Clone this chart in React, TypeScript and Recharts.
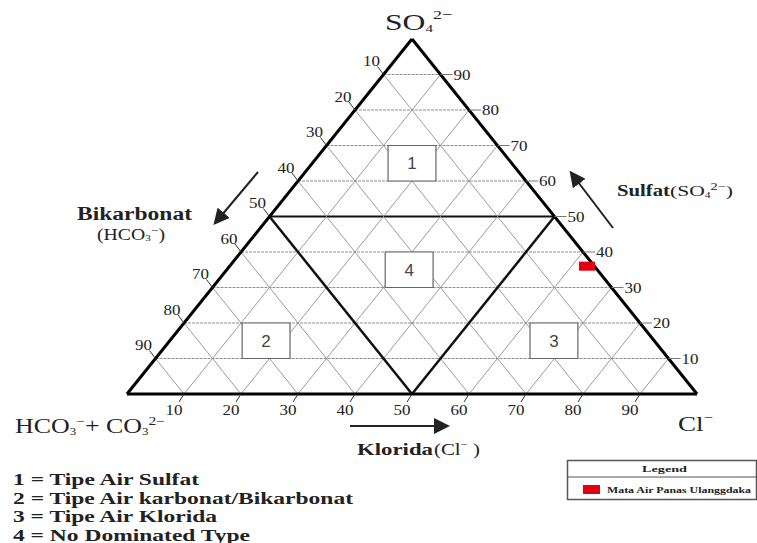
import {
  ScatterChart,
  Scatter,
  XAxis,
  YAxis,
  ReferenceLine,
  ReferenceArea,
  ReferenceDot,
} from "recharts";

// grid levels (percent) for the three components
const gridLevels = [10, 20, 30, 40, 50, 60, 70, 80, 90];
const sulfatTicks = [10, 20, 30, 40, 50, 60, 70, 80, 90];
const bikarbonatTicks = [10, 20, 30, 40, 50, 60, 70, 80, 90];
const kloridaTicks = [10, 20, 30, 40, 50, 60, 70, 80, 90];

// water type zones (labels + box extents in percent)
const zoneIds = ["1", "2", "3", "4"];
const zoneCl = [45.8, 20.2, 70.7, 45.3]; // left edge of box (sheared x)
const zoneSo4Low = [60, 10, 10, 30];
const zoneSo4High = [70, 20, 20, 40];
const zoneNames = [
  "Tipe Air Sulfat",
  "Tipe Air karbonat/Bikarbonat",
  "Tipe Air Klorida",
  "No Dominated Type",
];

// sample (percent HCO3, Cl, SO4)
const sampleNames = ["Mata Air Panas Ulanggdaka"];
const sampleHco3 = [1.3];
const sampleCl = [62.7];
const sampleSo4 = [36];

const toXY = (cl: number, so4: number) => ({ x: cl + so4 / 2, y: so4 });

const sampleData = sampleNames.map((name, i) => ({
  name,
  hco3: sampleHco3[i],
  ...toXY(sampleCl[i], sampleSo4[i]),
}));

const serif = "'Liberation Serif', 'DejaVu Serif', serif";
const GRID = "#8f8f8f";
const INK = "#222";

const SampleMark = (p: any) => (
  <rect x={p.cx - 8} y={p.cy - 4.5} width={16} height={9} fill="#e3000f" />
);

const TickText = ({ x, y, v, anchor }: any) => (
  <text
    x={x}
    y={y}
    textAnchor={anchor}
    fontSize={14}
    fontFamily={serif}
    fill={INK}
    textLength={17}
    lengthAdjust="spacingAndGlyphs"
  >
    {v}
  </text>
);

export default function App() {
  const zoneLegendLengths = [186, 340, 204, 237];
  return (
    <div
      style={{
        position: "absolute",
        left: 0,
        top: 0,
        width: 757,
        height: 543,
        background: "#fff",
        overflow: "hidden",
      }}
    >
      <ScatterChart
        width={757}
        height={543}
        margin={{ top: 39, right: 60, bottom: 149, left: 127 }}
      >
        <XAxis type="number" dataKey="x" domain={[0, 100]} hide />
        <YAxis type="number" dataKey="y" domain={[0, 100]} hide />

        {/* constant SO4 (horizontal) */}
        {gridLevels.map((s) => (
          <ReferenceLine
            key={"s" + s}
            segment={[
              { x: s / 2, y: s },
              { x: 100 - s / 2, y: s },
            ]}
            stroke={s === 50 ? "#111" : GRID}
            strokeWidth={s === 50 ? 2.2 : 1}
            strokeDasharray={s === 50 ? undefined : "3 1"}
          />
        ))}
        {/* constant Cl (parallel to left edge) */}
        {gridLevels.map((c) => (
          <ReferenceLine
            key={"c" + c}
            segment={[
              { x: c, y: 0 },
              { x: c + (100 - c) / 2, y: 100 - c },
            ]}
            stroke={GRID}
            strokeWidth={0.9}
          />
        ))}
        {/* constant HCO3 (parallel to right edge) */}
        {gridLevels.map((h) => (
          <ReferenceLine
            key={"h" + h}
            segment={[
              { x: (100 - h) / 2, y: 100 - h },
              { x: 100 - h, y: 0 },
            ]}
            stroke={GRID}
            strokeWidth={0.9}
          />
        ))}

        {/* zone boundaries */}
        <ReferenceLine segment={[toXY(0, 50), toXY(50, 0)]} stroke="#111" strokeWidth={2.5} />
        <ReferenceLine segment={[toXY(50, 50), toXY(50, 0)]} stroke="#111" strokeWidth={2.5} />

        {/* triangle */}
        <ReferenceLine segment={[toXY(0, 0), toXY(100, 0)]} stroke="#000" strokeWidth={3} />
        <ReferenceLine segment={[toXY(0, 0), toXY(0, 100)]} stroke="#000" strokeWidth={3} />
        <ReferenceLine segment={[toXY(100, 0), toXY(0, 100)]} stroke="#000" strokeWidth={3} />

        {/* zone boxes */}
        {zoneIds.map((z, i) => (
          <ReferenceArea
            key={"z" + z}
            x1={zoneCl[i]}
            x2={zoneCl[i] + 8.4}
            y1={zoneSo4Low[i]}
            y2={zoneSo4High[i]}
            fill="#fff"
            fillOpacity={1}
            stroke="#666"
            strokeWidth={1.2}
            zIndex={450}
            label={{
              value: z,
              position: "center",
              fill: "#444",
              fontSize: 17,
              fontFamily: "'Liberation Sans', Arial, sans-serif",
            }}
          />
        ))}

        {/* Sulfat ticks on right edge */}
        {sulfatTicks.map((s) => (
          <ReferenceDot
            key={"rt" + s}
            {...toXY(100 - s, s)}
            ifOverflow="visible"
            shape={(p: any) => (
              <g>
                <line x1={p.cx} y1={p.cy} x2={p.cx + 12} y2={p.cy} stroke="#777" strokeWidth={1} />
                <TickText x={p.cx + 13} y={p.cy + 5} v={s} anchor="start" />
              </g>
            )}
          />
        ))}
        {/* Bikarbonat ticks on left edge */}
        {bikarbonatTicks.map((h) => (
          <ReferenceDot
            key={"lt" + h}
            {...toXY(0, 100 - h)}
            ifOverflow="visible"
            shape={(p: any) => (
              <g>
                <line x1={p.cx} y1={p.cy} x2={p.cx - 6} y2={p.cy - 8} stroke="#333" strokeWidth={1} />
                <TickText x={p.cx - 12} y={p.cy - 8.5} v={h} anchor="middle" />
              </g>
            )}
          />
        ))}
        {/* Klorida ticks on base */}
        {kloridaTicks.map((c) => (
          <ReferenceDot
            key={"bt" + c}
            {...toXY(c, 0)}
            ifOverflow="visible"
            shape={(p: any) => (
              <g>
                <line x1={p.cx} y1={p.cy} x2={p.cx - 5} y2={p.cy + 8} stroke="#333" strokeWidth={1} />
                <TickText x={p.cx - 10} y={p.cy + 21} v={c} anchor="middle" />
              </g>
            )}
          />
        ))}

        <Scatter
          name={sampleNames[0]}
          data={sampleData}
          shape={SampleMark}
          isAnimationActive={false}
        />
      </ScatterChart>

      {/* annotations */}
      <svg
        width={757}
        height={543}
        style={{ position: "absolute", left: 0, top: 0, pointerEvents: "none" }}
      >
        <defs>
          <marker id="ah" markerWidth="8" markerHeight="8" refX="6" refY="4" orient="auto">
            <path d="M0,0 L8,4 L0,8 z" fill={INK} />
          </marker>
        </defs>
        <g fontFamily={serif} fill={INK}>
          <text x={385} y={30} fontSize={23} textLength={67} lengthAdjust="spacingAndGlyphs">
            SO<tspan fontSize={11} dy={2}>4</tspan>
            <tspan fontSize={13} dy={-13}>2−</tspan>
          </text>
          <text x={15} y={433} fontSize={20} textLength={150} lengthAdjust="spacingAndGlyphs">
            HCO<tspan fontSize={10} dy={2}>3</tspan>
            <tspan fontSize={12} dy={-10}>−</tspan>
            <tspan dy={8}>+ CO</tspan>
            <tspan fontSize={10} dy={2}>3</tspan>
            <tspan fontSize={12} dy={-10}>2−</tspan>
          </text>
          <text x={678} y={431} fontSize={21} textLength={35} lengthAdjust="spacingAndGlyphs">
            Cl<tspan fontSize={13} dy={-9}>−</tspan>
          </text>

          <text x={77} y={220} fontSize={18} fontWeight="bold" textLength={115} lengthAdjust="spacingAndGlyphs">
            Bikarbonat
          </text>
          <text x={97} y={240} fontSize={16} textLength={68} lengthAdjust="spacingAndGlyphs">
            (HCO<tspan fontSize={9} dy={1}>3</tspan>
            <tspan fontSize={11} dy={-7}>−</tspan>
            <tspan dy={6}>)</tspan>
          </text>
          <line x1={258} y1={172} x2={216} y2={222} stroke={INK} strokeWidth={2} markerEnd="url(#ah)" />

          <text x={617} y={196} fontSize={17} fontWeight="bold" textLength={53} lengthAdjust="spacingAndGlyphs">
            Sulfat
          </text>
          <text x={670} y={196} fontSize={15} textLength={63} lengthAdjust="spacingAndGlyphs">
            (SO<tspan fontSize={8} dy={2}>4</tspan>
            <tspan fontSize={10} dy={-8}>2−</tspan>
            <tspan dy={6}>)</tspan>
          </text>
          <line x1={613} y1={228} x2={572} y2={174} stroke={INK} strokeWidth={2} markerEnd="url(#ah)" />

          <text x={357} y={455} fontSize={17} fontWeight="bold" textLength={76} lengthAdjust="spacingAndGlyphs">
            Klorida
          </text>
          <text x={434} y={455} fontSize={16} textLength={46} lengthAdjust="spacingAndGlyphs">
            (Cl<tspan fontSize={10} dy={-7}>−</tspan>
            <tspan dy={7}> )</tspan>
          </text>
          <line x1={350} y1={426} x2={446} y2={426} stroke={INK} strokeWidth={2} markerEnd="url(#ah)" />

          {zoneNames.map((n, i) => (
            <text
              key={n}
              x={13}
              y={485 + i * 18.5}
              fontSize={17}
              fontWeight="bold"
              textLength={zoneLegendLengths[i]}
              lengthAdjust="spacingAndGlyphs"
            >
              {zoneIds[i]} = {n}
            </text>
          ))}

          {/* legend box */}
          <rect x={567.5} y={460.5} width={189} height={39} fill="#fff" stroke="#555" strokeWidth={1.5} />
          <line x1={567.5} y1={477} x2={757} y2={477} stroke="#555" strokeWidth={1.2} />
          <text x={642} y={471.5} fontSize={8} fontWeight="bold" textLength={45} lengthAdjust="spacingAndGlyphs">
            Legend
          </text>
          <rect x={583} y={485} width={17} height={9} fill="#e3000f" />
          <text x={607} y={492.5} fontSize={8} fontWeight="bold" textLength={144} lengthAdjust="spacingAndGlyphs">
            {sampleNames[0]}
          </text>
        </g>
      </svg>
    </div>
  );
}
